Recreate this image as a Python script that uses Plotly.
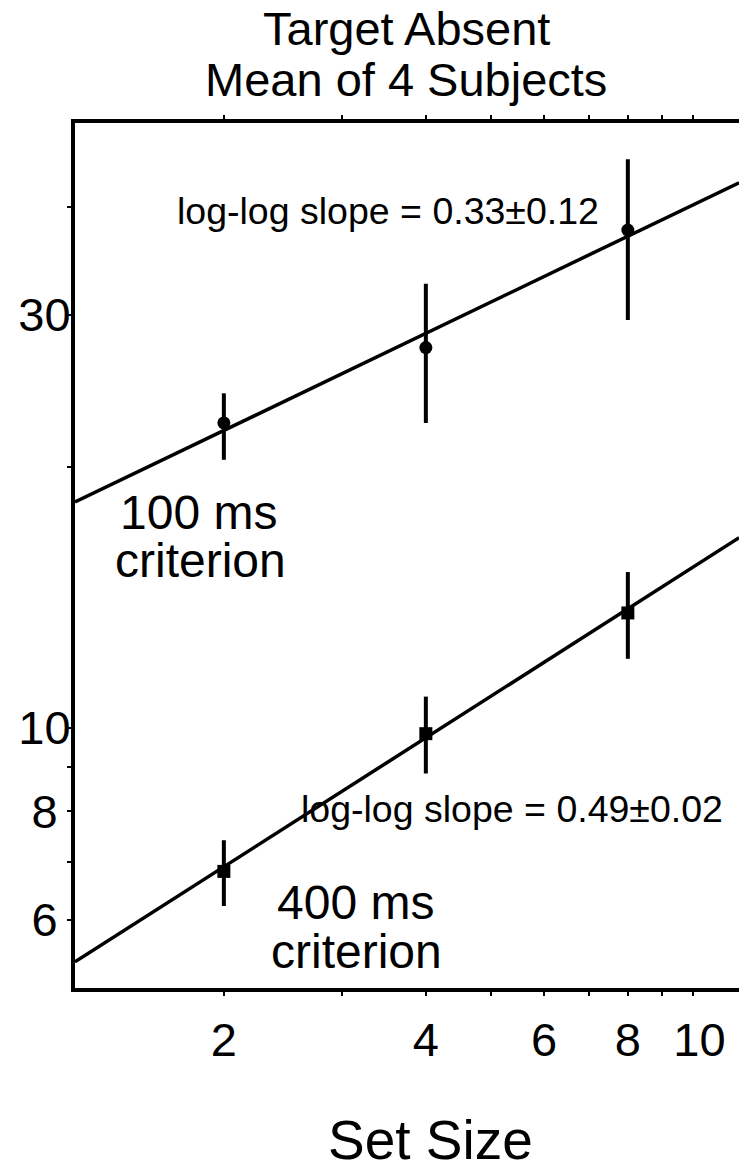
import numpy as np
import plotly.graph_objects as go

# Set sizes tested
set_size = [2, 4, 8]

# 100 ms criterion: mean and error-bar limits
rt_100 = [22.5, 27.5, 37.6]
rt_100_hi = [24.35, 32.6, 45.4]
rt_100_lo = [20.4, 22.5, 29.6]

# 400 ms criterion: mean and error-bar limits
rt_400 = [6.82, 9.84, 13.57]
rt_400_hi = [7.41, 10.86, 15.13]
rt_400_lo = [6.22, 8.85, 12.01]

# Fitted power-law lines (end points across the plotted range)
fit_x = [1.2, 11.72]
fit_100 = [18.23, 42.65]
fit_400 = [5.36, 16.58]

# Axis ticks (non-breaking spaces nudge single-digit labels)
NB = "\u00a0"
x_tickvals = [2, 3, 4, 5, 6, 7, 8, 9, 10]
x_ticktext = ["2", "", "4", "", "6", "", "8", "", NB + "10"]
y_tickvals = [6, 7, 8, 9, 10, 20, 30, 40]
y_ticktext = ["6" + NB, "", "8" + NB, "", "10", "", "30", ""]

FONT = "Liberation Sans, Arial, sans-serif"
W, H = 739, 1171
ML, MR, MT, MB = 75, 0, 123, 183


def px(x, y):
    """Convert page pixel position to paper coordinates."""
    return (x - ML) / (W - ML - MR), (H - MB - y) / (H - MT - MB)


fig = go.Figure()

for ys in (fit_100, fit_400):
    fig.add_trace(go.Scatter(x=fit_x, y=ys, mode="lines",
                             line=dict(color="black", width=3.5),
                             hoverinfo="skip", showlegend=False))


def err(y, hi, lo):
    return dict(type="data", symmetric=False,
                array=list(np.array(hi) - np.array(y)),
                arrayminus=list(np.array(y) - np.array(lo)),
                thickness=4, width=0, color="black")


fig.add_trace(go.Scatter(x=set_size, y=rt_100, mode="markers",
                         marker=dict(symbol="circle", size=13, color="black"),
                         error_y=err(rt_100, rt_100_hi, rt_100_lo),
                         showlegend=False))
fig.add_trace(go.Scatter(x=set_size, y=rt_400, mode="markers",
                         marker=dict(symbol="square", size=13, color="black"),
                         error_y=err(rt_400, rt_400_hi, rt_400_lo),
                         showlegend=False))

notes = [
    ("Target Absent", 406, 28, 47),
    ("Mean of 4 Subjects", 406, 79, 47),
    ("log-log slope = 0.33±0.12", 388, 211, 37.5),
    ("100 ms", 198, 512, 48),
    ("criterion", 200, 560, 48),
    ("log-log slope = 0.49±0.02", 512, 809, 37.5),
    ("400 ms", 355, 902, 48),
    ("criterion", 356, 951, 48),
    ("Set Size", 430, 1140, 55),
]
for text, x, y, size in notes:
    xp, yp = px(x, y)
    fig.add_annotation(text=text, x=xp, y=yp, xref="paper", yref="paper",
                       xanchor="center", yanchor="middle", showarrow=False,
                       font=dict(family=FONT, size=size, color="black"))

fig.update_layout(
    width=W, height=H,
    margin=dict(l=ML, r=MR, t=MT, b=MB, pad=0),
    paper_bgcolor="white", plot_bgcolor="white",
    font=dict(family=FONT, size=47, color="black"),
    showlegend=False,
)
fig.update_xaxes(
    type="log", range=[np.log10(1.2), np.log10(1.2) + 664 / 671],
    tickvals=x_tickvals, ticktext=x_ticktext,
    ticks="outside", ticklen=4, tickwidth=2, tickcolor="black",
    ticklabelstandoff=4,
    showline=True, linewidth=4, linecolor="black", mirror="ticks",
    showgrid=False, zeroline=False,
)
fig.update_yaxes(
    type="log", range=[np.log10(5), np.log10(50)],
    tickvals=y_tickvals, ticktext=y_ticktext,
    ticks="outside", ticklen=4, tickwidth=2, tickcolor="black",
    ticklabelstandoff=-13,
    showline=True, linewidth=4, linecolor="black", mirror=False,
    showgrid=False, zeroline=False,
)

fig.write_html("out.html")
